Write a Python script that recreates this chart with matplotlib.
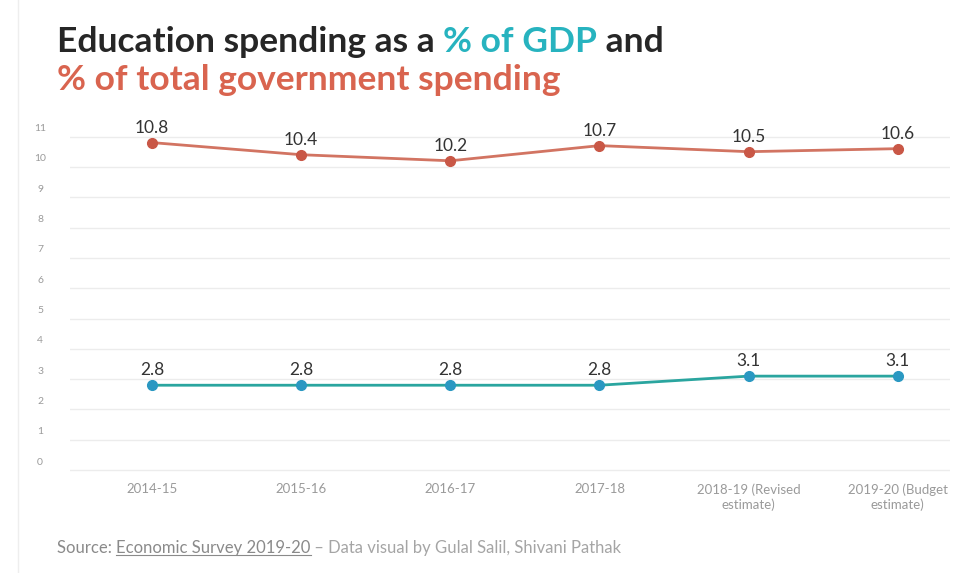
import numpy as np
import matplotlib.pyplot as plt
from matplotlib.lines import Line2D

years = ['2014-15', '2015-16', '2016-17', '2017-18',
         '2018-19 (Revised\nestimate)', '2019-20 (Budget\nestimate)']
pct_gdp = [2.8, 2.8, 2.8, 2.8, 3.1, 3.1]
pct_govt = [10.8, 10.4, 10.2, 10.7, 10.5, 10.6]
yticks = list(range(0, 12))

teal = '#27b3bf'
red = '#d9644f'
dark = '#262626'
grey = '#9a9a9a'

plt.rcParams['font.family'] = ['Lato', 'DejaVu Sans']

fig = plt.figure(figsize=(9.58, 5.73), dpi=100)
ax = fig.add_axes([70/958, 98/573, 880/958, 350/573])

x = np.arange(len(years))
ax.plot(x, pct_govt, color='#d27462', lw=2, zorder=3)
ax.plot(x, pct_govt, 'o', color='#c95746', ms=7, zorder=4)
ax.plot(x, pct_gdp, color='#2aa59f', lw=2, zorder=3)
ax.plot(x, pct_gdp, 'o', color='#2a98c2', ms=7, zorder=4)

for i in range(len(x)):
    ax.annotate('{:.1f}'.format(pct_govt[i]), (x[i], pct_govt[i]), xytext=(0, 5),
                textcoords='offset points', ha='center', va='bottom',
                fontsize=12.5, color='#333333', zorder=5)
    ax.annotate('{:.1f}'.format(pct_gdp[i]), (x[i], pct_gdp[i]), xytext=(0, 5),
                textcoords='offset points', ha='center', va='bottom',
                fontsize=12.5, color='#333333', zorder=5)

ax.set_xlim(-0.55, 5.35)
ax.set_ylim(-0.16, 11.38)
ax.set_yticks(yticks)
ax.set_yticklabels([])
for v in yticks:
    ax.axhline(v, color='#ececec', lw=1, zorder=1)
    ax.text(-0.75, v + 0.12, str(v), ha='center', va='bottom',
            fontsize=7.5, color=grey)
ax.set_xticks(x)
ax.set_xticklabels(years, fontsize=9.5, color=grey, linespacing=1.2)
ax.tick_params(length=0, pad=6)
for s in ax.spines.values():
    s.set_visible(False)
ax.grid(False)

fig.add_artist(Line2D([18/958, 18/958], [0, 1], color='#eeeeee', lw=1))

# title and source with coloured parts
fig.canvas.draw()
r = fig.canvas.get_renderer()

def run_text(parts, x0, y0, size, weight='normal', underline=None):
    xx = x0
    for s, c in parts:
        t = fig.text(xx, y0, s, color=c, fontsize=size, fontweight=weight,
                     ha='left', va='baseline')
        bb = t.get_window_extent(renderer=r)
        if underline is not None and s == underline:
            yb = bb.y0 / fig.bbox.height + 0.002
            fig.add_artist(Line2D([bb.x0 / fig.bbox.width, bb.x1 / fig.bbox.width],
                                  [yb, yb], color=c, lw=0.8))
        xx = bb.x1 / fig.bbox.width

run_text([('Education spending as a ', dark), ('% of GDP', teal), (' and', dark)],
         57/958, 1 - 52/573, 25.5, 'bold')
run_text([('% of total government spending', red)], 57/958, 1 - 90/573, 25.5, 'bold')
run_text([('Source: ', '#8a8a8a'), ('Economic Survey 2019-20', '#8a8a8a'),
          (' \u2013 Data visual by Gulal Salil, Shivani Pathak', '#a5a5a5')],
         57/958, 1 - 553/573, 12, underline='Economic Survey 2019-20')

fig.savefig('out.png', dpi=100)
